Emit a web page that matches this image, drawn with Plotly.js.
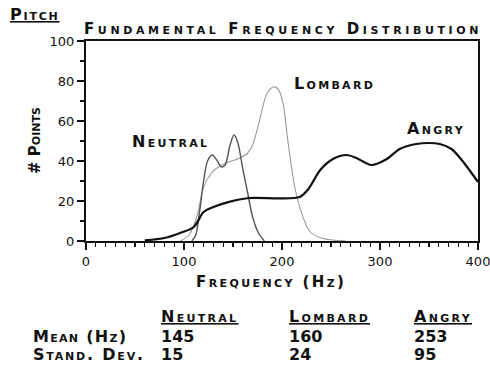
<!DOCTYPE html>
<html>
<head>
<meta charset="utf-8">
<script src="https://cdn.plot.ly/plotly-3.0.1.min.js"></script>
<style>html,body{margin:0;padding:0;background:#fff;}#chart{width:490px;height:367px;}</style>
</head>
<body>
<div id="chart"></div>
<script>
// Angry
var angryFreq = [60, 80, 96, 110, 120, 130, 147, 167, 198, 218, 227, 239, 252, 266, 276, 291, 307, 320, 337, 350, 361, 373, 385, 400];
var angryPts  = [0.3, 1.5, 4, 7, 14.5, 17, 19.7, 21.5, 21.3, 22, 26, 35.5, 41, 43, 41.5, 38, 41, 46, 48.5, 49, 48.5, 46, 39.5, 29.5];
// Neutral
var neutralFreq = [108, 112, 116, 120, 124, 129, 134, 138, 142, 147, 151, 155, 160, 165, 170, 176, 182];
var neutralPts  = [0, 3, 15, 30, 40, 43, 40, 37, 38, 48, 53, 49, 36, 24, 12, 4, 0];
// Lombard
var lombardFreq = [96, 105, 113, 120, 128, 135, 143, 157, 165, 170, 177, 184, 191, 196, 201, 206, 213, 220, 228, 240, 255, 265];
var lombardPts  = [0, 3, 12, 27, 34, 37, 39, 41.5, 44, 48, 60, 73, 77, 76, 69, 50, 27, 14, 5, 1.5, 0.3, 0];

var styles = ["Neutral", "Lombard", "Angry"];
var means  = ["145", "160", "253"];
var stdevs = ["15", "24", "95"];
var rowLabels = ["Mean (Hz)", "Stand. Dev."];

var FONT = "DejaVu Sans, Liberation Sans, Arial, sans-serif";

var traces = [
  {x: lombardFreq, y: lombardPts, mode: "lines", line: {color: "#9a9a9a", width: 1.1, shape: "spline", smoothing: 0.8}, hoverinfo: "none"},
  {x: neutralFreq, y: neutralPts, mode: "lines", line: {color: "#555", width: 1.4, shape: "spline", smoothing: 0.8}, hoverinfo: "none"},
  {x: angryFreq, y: angryPts, mode: "lines", line: {color: "#111", width: 2.2, shape: "spline", smoothing: 0.8}, hoverinfo: "none"}
];

function px2x(px) { return (px - 86) / 392; }
function py2y(py) { return (241 - py) / 200; }

function ann(text, px, py, size, ls, opts) {
  opts = opts || {};
  var t = ls ? '<span style="letter-spacing:' + ls + 'px">' + text + '</span>' : text;
  return {
    text: t, xref: "paper", yref: "paper", x: px2x(px), y: py2y(py),
    xanchor: opts.xanchor || "left", yanchor: "middle", showarrow: false,
    textangle: opts.angle || 0,
    font: {family: FONT, size: size, color: "#111", weight: "bold", variant: "small-caps", lineposition: opts.underline ? "under" : "none"}
  };
}

var annotations = [
  ann("Pitch", 8, 14, 16, 1.8, {underline: true}),
  ann("Fundamental Frequency Distribution", 283, 29, 15, 3.6, {xanchor: "center"}),
  ann("# Points", 35, 141, 15, 0, {xanchor: "center", angle: -90}),
  ann("Frequency (Hz)", 271, 282, 15, 2.4, {xanchor: "center"}),
  ann("Neutral", 130, 141, 16, 2.3),
  ann("Lombard", 292, 83, 16, 2.3),
  ann("Angry", 405, 128, 16, 2.3)
];
var colX = [159, 287, 412];
for (var i = 0; i < styles.length; i++) {
  annotations.push(ann(styles[i], colX[i], 316, 16, 2.3, {underline: true}));
  annotations.push(ann(means[i], colX[i], 336, 16, 0));
  annotations.push(ann(stdevs[i], colX[i], 354, 16, 0));
}
annotations.push(ann(rowLabels[0], 31, 336, 16, 1.3));
annotations.push(ann(rowLabels[1], 31, 354, 16, 1.8));

var layout = {
  width: 490, height: 367,
  margin: {l: 86, r: 12, t: 41, b: 126},
  paper_bgcolor: "#fff", plot_bgcolor: "#fff",
  showlegend: false,
  font: {family: FONT, color: "#111"},
  xaxis: {
    range: [0, 400], tickmode: "linear", tick0: 0, dtick: 100,
    ticks: "outside", ticklen: 7, tickwidth: 1.5, tickcolor: "#111",
    minor: {dtick: 10, ticks: "outside", ticklen: 4, tickwidth: 1.2, tickcolor: "#111", showgrid: false},
    showline: true, linecolor: "#111", linewidth: 2, mirror: true,
    showgrid: false, zeroline: false, ticklabeloverflow: "allow",
    tickfont: {family: FONT, size: 13, color: "#111"}
  },
  yaxis: {
    range: [0, 100], tickmode: "linear", tick0: 0, dtick: 20,
    ticks: "outside", ticklen: 7, tickwidth: 1.5, tickcolor: "#111",
    minor: {dtick: 10, ticks: "outside", ticklen: 4, tickwidth: 1.2, tickcolor: "#111", showgrid: false},
    showline: true, linecolor: "#111", linewidth: 2, mirror: true,
    showgrid: false, zeroline: false,
    tickfont: {family: FONT, size: 13, color: "#111"}
  },
  annotations: annotations
};

Plotly.newPlot("chart", traces, layout, {staticPlot: true, displayModeBar: false});
</script>
</body>
</html>
